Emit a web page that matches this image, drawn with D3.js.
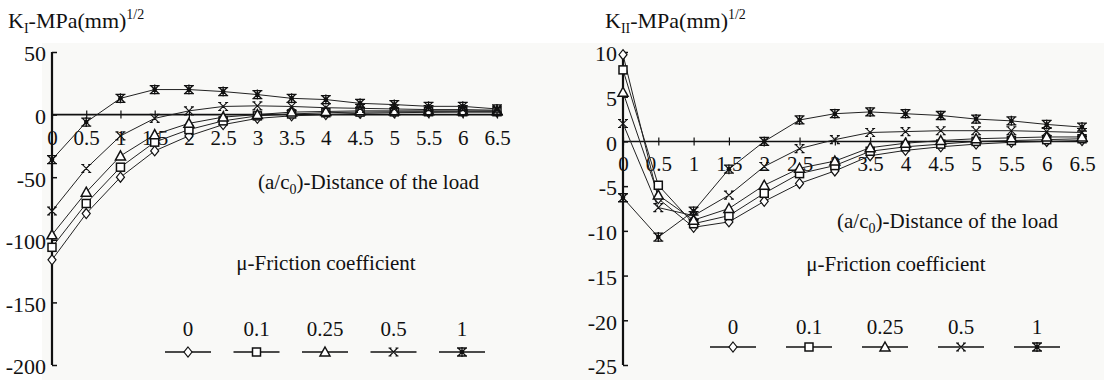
<!DOCTYPE html>
<html><head><meta charset="utf-8">
<script src="https://cdn.jsdelivr.net/npm/d3@7"></script>
<style>
body{margin:0;background:#fff;}
svg text{font-family:"Liberation Serif","Times New Roman",serif;fill:#111;}
</style></head>
<body><svg id="c" width="1104" height="380"></svg>
<script>
const xs = [0,0.5,1,1.5,2,2.5,3,3.5,4,4.5,5,5.5,6,6.5];
const xTicks = [0,0.5,1,1.5,2,2.5,3,3.5,4,4.5,5,5.5,6,6.5];
const muLabels = ["0","0.1","0.25","0.5","1"];
const markers = ["diamond","square","triangle","cross","star"];

// K_I values
const kI_mu0   = [-116,-79,-50,-29,-17,-8,-3,-1,0,1,1.5,1.8,2,2];
const kI_mu01  = [-106,-71,-42,-22,-12,-5,-1,0.5,1.5,2,2.2,2.3,2.3,2.3];
const kI_mu025 = [-96,-62,-33,-16,-7,-2,0,2,2.5,3,3,3,3,3];
const kI_mu05  = [-77,-43,-17,-3,3,6.5,7,6.5,5.5,5,4.5,4,4,3.5];
const kI_mu1   = [-36,-6,13,20,20,18.4,16,13,12,9,8,6.6,6.6,4.5];
const kITicks  = [50,0,-50,-100,-150,-200];

// K_II values
const kII_mu0   = [9.7,-6.4,-9.6,-9,-6.7,-4.7,-3.3,-1.6,-1.0,-0.6,-0.3,-0.1,0,0.1];
const kII_mu01  = [8.0,-4.9,-9.2,-8.3,-5.8,-3.6,-2.7,-1.1,-0.6,-0.3,0,0.1,0.2,0.3];
const kII_mu025 = [5.5,-6.0,-8.8,-7.5,-4.9,-3.0,-2.2,-0.7,-0.2,0.1,0.3,0.4,0.5,0.5];
const kII_mu05  = [2.0,-7.4,-8.3,-6.0,-2.8,-0.8,0.2,1.0,1.1,1.2,1.2,1.2,1.1,1.0];
const kII_mu1   = [-6.3,-10.7,-7.8,-3.1,0,2.4,3.1,3.3,3.1,2.9,2.5,2.3,1.9,1.6];
const kIITicks  = [10,5,0,-5,-10,-15,-20,-25];

const svg = d3.select("#c");
svg.append("rect").attr("x",42).attr("y",43).attr("width",1062).attr("height",337).attr("fill","#f9f9f7");

function marker(g, type, cx, cy){
  const s = 4;
  if(type==="diamond"){
    g.append("path").attr("d",`M${cx},${cy-s-1}L${cx+s},${cy}L${cx},${cy+s+1}L${cx-s},${cy}Z`)
      .attr("fill","#fff").attr("stroke","#111").attr("stroke-width",1.2);
  } else if(type==="square"){
    g.append("rect").attr("x",cx-s).attr("y",cy-s).attr("width",2*s).attr("height",2*s)
      .attr("fill","#fff").attr("stroke","#111").attr("stroke-width",1.5);
  } else if(type==="triangle"){
    g.append("path").attr("d",`M${cx},${cy-s-1}L${cx+s+1},${cy+s}L${cx-s-1},${cy+s}Z`)
      .attr("fill","#fff").attr("stroke","#111").attr("stroke-width",1.5);
  } else if(type==="cross"){
    g.append("path").attr("d",`M${cx-s},${cy-s}L${cx+s},${cy+s}M${cx+s},${cy-s}L${cx-s},${cy+s}M${cx-s-1},${cy-s}L${cx-s+2},${cy-s}M${cx+s-2},${cy-s}L${cx+s+1},${cy-s}M${cx-s-1},${cy+s}L${cx-s+2},${cy+s}M${cx+s-2},${cy+s}L${cx+s+1},${cy+s}`)
      .attr("fill","none").attr("stroke","#111").attr("stroke-width",1.1);
  } else {
    g.append("path").attr("d",`M${cx-s},${cy-s}L${cx+s},${cy+s}M${cx+s},${cy-s}L${cx-s},${cy+s}M${cx},${cy-s-1}L${cx},${cy+s+1}M${cx-s-1},${cy-s}L${cx+s+1},${cy-s}M${cx-s-1},${cy+s}L${cx+s+1},${cy+s}`)
      .attr("fill","none").attr("stroke","#111").attr("stroke-width",1.3);
    g.append("circle").attr("cx",cx).attr("cy",cy).attr("r",2.3).attr("fill","#111");
  }
}

function panel(cfg){
  const x = d3.scaleLinear().domain([0,6.5]).range([cfg.x0, cfg.x1]);
  const y = d3.scaleLinear().domain([cfg.yMin,cfg.yMax]).range([cfg.yBot, cfg.yTop]);
  const g = svg.append("g");

  // title
  const t = g.append("text").attr("x",cfg.titleX).attr("y",28).attr("font-size",22);
  t.append("tspan").text("K");
  t.append("tspan").attr("font-size",14).attr("dy",5).text(cfg.sub);
  t.append("tspan").attr("dy",-5).text("-MPa(mm)");
  t.append("tspan").attr("font-size",14).attr("dy",-9).text("1/2");

  // y axis
  const ya = g.append("g").attr("transform",`translate(${cfg.x0},0)`)
    .call(d3.axisLeft(y).tickValues(cfg.yTicks).tickSizeInner(-5).tickSizeOuter(0).tickPadding(6).tickFormat(d=>String(d)));
  ya.select(".domain").remove();
  ya.selectAll("line").attr("stroke","#111").attr("stroke-width",1.5);
  ya.selectAll("text").attr("font-size",22).attr("font-family","Liberation Serif").attr("fill","#111").attr("dy","0.4em");
  g.append("line").attr("x1",cfg.x0).attr("x2",cfg.x0).attr("y1",y(cfg.yMax)).attr("y2",y(cfg.yMin))
    .attr("stroke","#111").attr("stroke-width",2.2);

  // x axis at zero
  const xa = g.append("g").attr("transform",`translate(0,${y(0)})`)
    .call(d3.axisBottom(x).tickValues(xTicks).tickSizeInner(4).tickSizeOuter(0).tickPadding(11).tickFormat(d=>String(d)));
  xa.select(".domain").remove();
  xa.selectAll("line").attr("stroke","#111").attr("stroke-width",1.2).attr("y1",-4);
  xa.selectAll("text").attr("font-size",21).attr("font-family","Liberation Serif").attr("fill","#111");
  g.append("line").attr("x1",cfg.x0).attr("x2",cfg.x1+6).attr("y1",y(0)).attr("y2",y(0))
    .attr("stroke","#111").attr("stroke-width",1.6);

  // series
  const line = d3.line().x((d,i)=>x(xs[i])).y(d=>y(d));
  cfg.series.forEach((s,k)=>{
    g.append("path").attr("d",line(s)).attr("fill","none").attr("stroke","#222").attr("stroke-width",1);
  });
  cfg.series.forEach((s,k)=>{
    s.forEach((v,i)=>marker(g, markers[k], x(xs[i]), y(v)));
  });

  // distance label
  const dl = g.append("text").attr("x",cfg.distX).attr("y",cfg.distY).attr("font-size",21);
  dl.append("tspan").text("(a/c");
  dl.append("tspan").attr("font-size",14).attr("dy",5).text("0");
  dl.append("tspan").attr("dy",-5).text(")-Distance of the load");

  g.append("text").attr("x",cfg.muX).attr("y",cfg.muY).attr("font-size",21).attr("text-anchor","middle").text("\u03bc-Friction coefficient");

  // legend
  muLabels.forEach((lab,k)=>{
    const cx = cfg.legX0 + k*cfg.legDx;
    g.append("text").attr("x",cx).attr("y",cfg.legTextY).attr("font-size",21).attr("text-anchor","middle").text(lab);
    g.append("line").attr("x1",cx-23).attr("x2",cx+23).attr("y1",cfg.legLineY).attr("y2",cfg.legLineY)
      .attr("stroke","#111").attr("stroke-width",1.5);
    marker(g, markers[k], cx, cfg.legLineY);
  });
}

panel({x0:52,x1:497,yMin:-200,yMax:50,yBot:365,yTop:52,yTicks:kITicks,sub:"I",titleX:8,
  series:[kI_mu0,kI_mu01,kI_mu025,kI_mu05,kI_mu1],
  distX:258,distY:189,muX:326,muY:270,legX0:188,legDx:68.5,legTextY:336,legLineY:352});

panel({x0:623,x1:1082,yMin:-25,yMax:10,yBot:365,yTop:52,yTicks:kIITicks,sub:"II",titleX:605,
  series:[kII_mu0,kII_mu01,kII_mu025,kII_mu05,kII_mu1],
  distX:837,distY:228,muX:896,muY:271,legX0:733,legDx:76,legTextY:334,legLineY:347});
</script></body></html>
